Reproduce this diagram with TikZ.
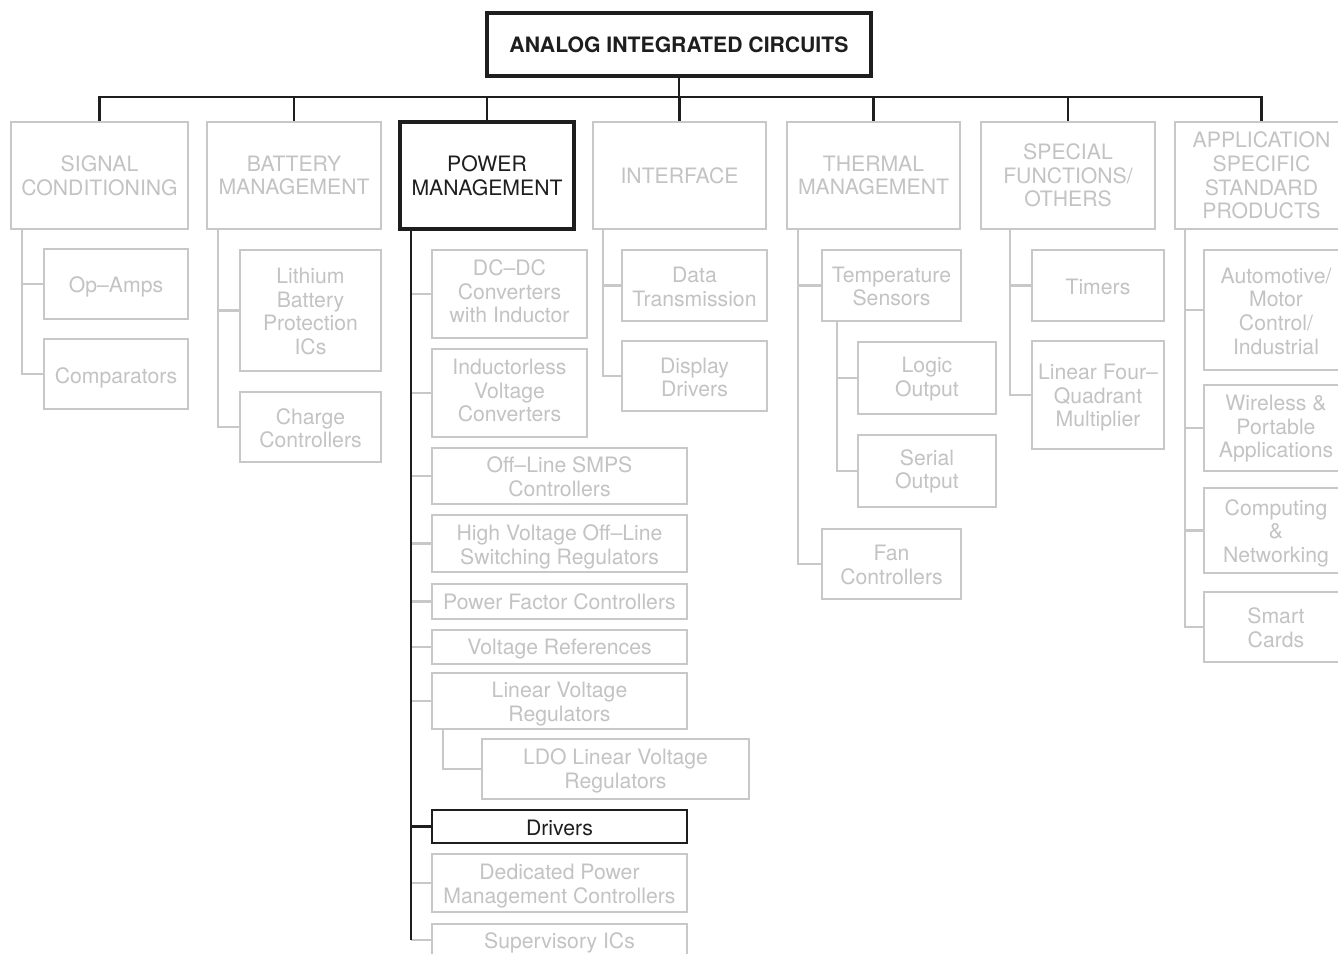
\documentclass[tikz,border=0pt]{standalone}
\usepackage{fontspec}
\setmainfont{TeX Gyre Heros}
\definecolor{lg}{RGB}{200,200,200}
\definecolor{lgt}{RGB}{195,195,195}
\definecolor{bk}{RGB}{30,30,30}
\tikzset{
  base/.style={inner sep=0pt, align=center, font=\fontsize{15.9}{17.7}\selectfont},
  gbox/.style={base, draw=lg, line width=1.7pt, text=lgt},
  bbox/.style={base, draw=bk, line width=2.6pt, text=bk},
  dbox/.style={base, draw=bk, line width=1.8pt, text=bk},
  gcon/.style={draw=lg, line width=1.8pt},
  bcon/.style={draw=bk, line width=1.6pt},
}
\newcommand\bx[7]{\node[#6, minimum width={(#4-#2)*0.75pt}, minimum height={(#5-#3)*0.75pt}] (#1) at ({(#2+#4)/2},{(#3+#5)/2}) {#7};}
\newcommand\cbx[8]{\node[#6, minimum width={(#4-#2)*0.75pt}, minimum height={(#5-#3)*0.75pt}] (#1) at ({(#2+#4)/2},{(#3+#5)/2}) {\raisebox{\dimexpr -#8pt*3/4\relax}[\height][\depth]{\begin{tabular}{@{}c@{}}#7\end{tabular}}};}
\begin{document}
\begin{tikzpicture}[x=0.75pt,y=-0.75pt]
\fill[white] (0,0) rectangle (1338,953);
\useasboundingbox (0,0) rectangle (1338,953);
\clip (0,0) rectangle (1338,953);
% top and categories
\bx{top}{487}{13}{871}{76}{bbox}{\textbf{ANALOG INTEGRATED CIRCUITS}}
\bx{sig}{11}{122}{188}{229}{gbox}{SIGNAL\\CONDITIONING}
\bx{bat}{207}{122}{381}{229}{gbox}{BATTERY\\MANAGEMENT}
\bx{pow}{400}{122}{574}{229}{bbox}{POWER\\MANAGEMENT}
\bx{intf}{593}{122}{766}{229}{gbox}{INTERFACE}
\bx{therm}{787}{122}{960}{229}{gbox}{THERMAL\\MANAGEMENT}
\bx{spec}{981}{122}{1155}{229}{gbox}{SPECIAL\\FUNCTIONS/\\OTHERS}
\bx{assp}{1175}{122}{1348}{229}{gbox}{APPLICATION\\SPECIFIC\\STANDARD\\PRODUCTS}
% signal conditioning
\cbx{opamp}{44}{249}{188}{319}{gbox}{Op–Amps}{3.9}
\cbx{comp}{44}{339}{188}{409}{gbox}{Comparators}{4.4}
% battery
\cbx{lith}{240}{250}{381}{371}{gbox}{Lithium\\Battery\\Protection\\ICs}{3.9}
\cbx{charge}{240}{392}{381}{462}{gbox}{Charge\\Controllers}{4.2}
% power
\cbx{dcdc}{432}{250}{587}{338}{gbox}{DC–DC\\Converters\\with Inductor}{0.6}
\cbx{indl}{432}{349}{587}{437}{gbox}{Inductorless\\Voltage\\Converters}{0.6}
\cbx{smps}{432}{448}{687}{504}{gbox}{Off–Line SMPS\\Controllers}{3.9}
\cbx{hv}{432}{515}{687}{572}{gbox}{High Voltage Off–Line\\Switching Regulators}{4.2}
\cbx{pfc}{432}{584}{687}{619}{gbox}{Power Factor Controllers}{3.4}
\cbx{vref}{432}{630}{687}{664}{gbox}{Voltage References}{2.9}
\cbx{lin}{432}{673}{687}{729}{gbox}{Linear Voltage\\Regulators}{3.9}
\cbx{ldo}{482}{739}{749}{799}{gbox}{LDO Linear Voltage\\Regulators}{2.9}
\cbx{drv}{432}{810}{687}{843}{dbox}{Drivers}{4.2}
\cbx{ded}{432}{854}{687}{912}{gbox}{Dedicated Power\\Management Controllers}{3.9}
\cbx{sup}{432}{924}{687}{956}{gbox}{Supervisory ICs}{3.9}
% interface
\cbx{data}{622}{250}{767}{321}{gbox}{Data\\Transmission}{4.2}
\cbx{disp}{622}{341}{767}{411}{gbox}{Display\\Drivers}{4.2}
% thermal
\cbx{temp}{822}{250}{961}{321}{gbox}{Temperature\\Sensors}{3.9}
\cbx{logic}{858}{342}{996}{414}{gbox}{Logic\\Output}{1.9}
\cbx{serial}{858}{435}{996}{507}{gbox}{Serial\\Output}{1.4}
\cbx{fan}{822}{529}{961}{599}{gbox}{Fan\\Controllers}{3.9}
% special
\cbx{timers}{1032}{250}{1164}{321}{gbox}{Timers}{4.2}
\cbx{mult}{1032}{341}{1164}{449}{gbox}{Linear Four–\\Quadrant\\Multiplier}{3.4}
% assp
\cbx{auto}{1204}{250}{1348}{370}{gbox}{Automotive/\\Motor\\Control/\\Industrial}{3.9}
\cbx{wire}{1204}{385}{1348}{471}{gbox}{Wireless \&\\Portable\\Applications}{1.4}
\cbx{compnet}{1204}{488}{1348}{573}{gbox}{Computing\\\&\\Networking}{3.4}
\cbx{smart}{1204}{592}{1348}{662}{gbox}{Smart\\Cards}{3.9}
% spine coordinates
\coordinate (bus) at (680,97);
\coordinate (sigsp) at (22,229);
\coordinate (batsp) at (218,229);
\coordinate (powsp) at (411,229);
\coordinate (intsp) at (603,229);
\coordinate (thsp) at (798,229);
\coordinate (tempsp) at (837,321);
\coordinate (specsp) at (1010,229);
\coordinate (asspsp) at (1185,229);
\coordinate (linsp) at (443,729);
% gray connectors
\draw[gcon] (sigsp) |- (opamp.west);
\draw[gcon] (sigsp) |- (comp.west);
\draw[gcon] (batsp) |- (lith.west);
\draw[gcon] (batsp) |- (charge.west);
\draw[gcon] (powsp |- dcdc.west) -- (dcdc.west);
\draw[gcon] (powsp |- indl.west) -- (indl.west);
\draw[gcon] (powsp |- smps.west) -- (smps.west);
\draw[gcon] (powsp |- hv.west) -- (hv.west);
\draw[gcon] (powsp |- pfc.west) -- (pfc.west);
\draw[gcon] (powsp |- vref.west) -- (vref.west);
\draw[gcon] (powsp |- lin.west) -- (lin.west);
\draw[gcon] (powsp |- ded.west) -- (ded.west);
\draw[gcon] (powsp |- sup.west) -- (sup.west);
\draw[gcon] (linsp) |- (ldo.west);
\draw[gcon] (intsp) |- (data.west);
\draw[gcon] (intsp) |- (disp.west);
\draw[gcon] (thsp) |- (temp.west);
\draw[gcon] (thsp) |- (fan.west);
\draw[gcon] (tempsp) |- (logic.west);
\draw[gcon] (tempsp) |- (serial.west);
\draw[gcon] (specsp) |- (timers.west);
\draw[gcon] (specsp) |- (mult.west);
\draw[gcon] (asspsp) |- (auto.west);
\draw[gcon] (asspsp) |- (wire.west);
\draw[gcon] (asspsp) |- (compnet.west);
\draw[gcon] (asspsp) |- (smart.west);
% black connectors
\draw[bcon] (top.south) -- (top.south |- bus);
\draw[bcon] (sig.north) -- (sig.north |- bus) -- (assp.north |- bus) -- (assp.north);
\draw[bcon] (bat.north) -- (bat.north |- bus);
\draw[bcon] (pow.north) -- (pow.north |- bus);
\draw[bcon] (intf.north) -- (intf.north |- bus);
\draw[bcon] (therm.north) -- (therm.north |- bus);
\draw[bcon] (spec.north) -- (spec.north |- bus);
\draw[bcon] (powsp) -- (powsp |- sup.west);
\draw[bcon] (powsp |- drv.west) -- (drv.west);
\end{tikzpicture}
\end{document}
